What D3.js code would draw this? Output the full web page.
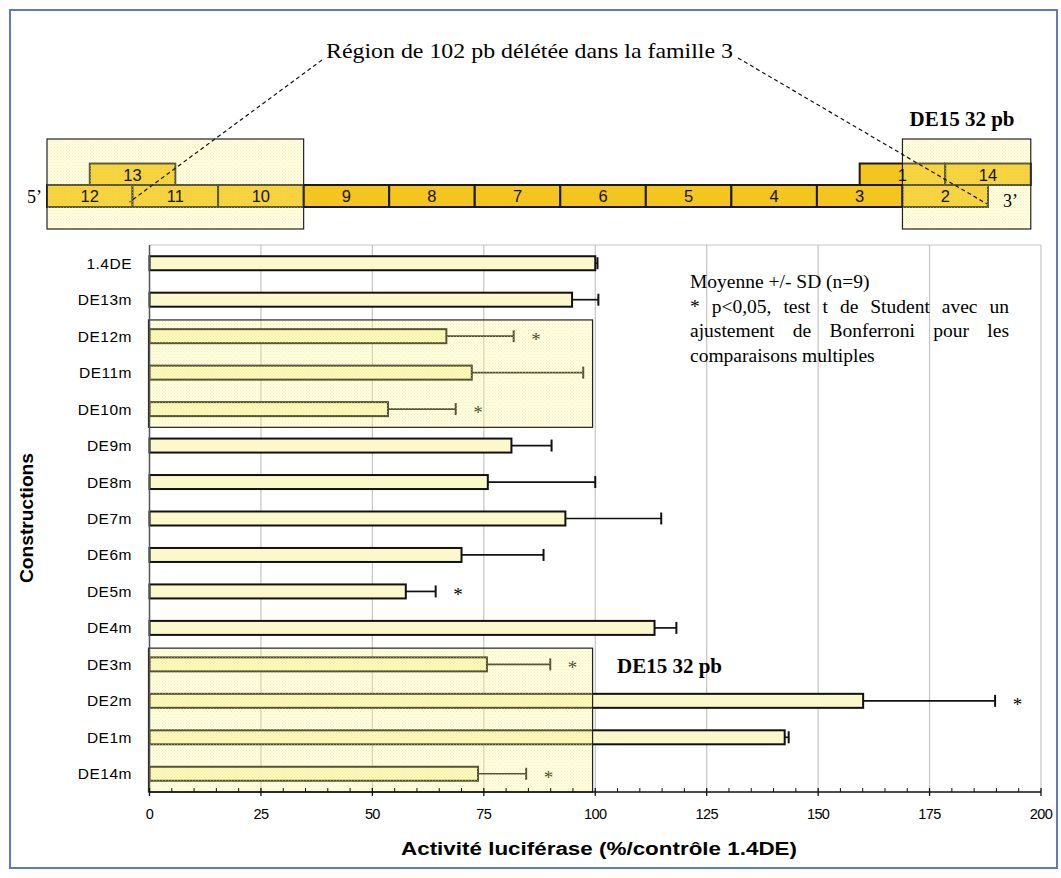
<!DOCTYPE html>
<html>
<head>
<meta charset="utf-8">
<script src="https://cdn.jsdelivr.net/npm/d3@7"></script>
<style>
  html, body { margin: 0; padding: 0; background: #fff; }
  svg { display: block; }
</style>
</head>
<body>
<svg id="chart" width="1061" height="878"></svg>
<script>
// ---------------- DATA ----------------
const categories = ["1.4DE","DE13m","DE12m","DE11m","DE10m","DE9m","DE8m","DE7m","DE6m","DE5m","DE4m","DE3m","DE2m","DE1m","DE14m"];
const means      = [100, 94.8, 66.6, 72.3, 53.5, 81.2, 75.9, 93.3, 70.0, 57.5, 113.3, 75.7, 160.1, 142.5, 73.7];
const sds        = [0.5, 5.9, 15.1, 25.0, 15.2, 9.0, 24.1, 21.5, 18.4, 6.7, 4.9, 14.2, 29.6, 0.9, 10.8];
const significant= [false,false,true,false,true,false,false,false,false,true,false,true,true,false,true];
const xTicks     = [0, 25, 50, 75, 100, 125, 150, 175, 200];
const highlightGroups = [["DE12m","DE10m"], ["DE3m","DE14m"]];
const highlightMax = 99.4;

// gene map segments
const lowerSegments = ["12","11","10","9","8","7","6","5","4","3","2"];
const upperSegments = [{label:"13", pos:0.5}, {label:"1", pos:9.5}, {label:"14", pos:10.5}];
const mapBoxes = [[0,3],[10,11.5]];

const titleText = "Région de 102 pb délétée dans la famille 3";
const de15Text = "DE15 32 pb";
const legendLines = [
  {text:"Moyenne +/- SD (n=9)", justify:false},
  {text:"* p<0,05, test t de Student avec un", justify:true},
  {text:"ajustement de Bonferroni pour les", justify:true},
  {text:"comparaisons multiples", justify:false}
];
const xTitle = "Activité luciférase (%/contrôle 1.4DE)";
const yTitle = "Constructions";

// ---------------- DRAW ----------------
const svg = d3.select("#chart");
const serif = "'Liberation Serif','Times New Roman',serif";
const sans = "'Liberation Sans',Arial,sans-serif";
const gold = "#f5c51f";
const barFill = "#fbf8cb";

// pattern for shaded regions
const defs = svg.append("defs");
const pat = defs.append("pattern").attr("id","dots").attr("width",3).attr("height",3)
  .attr("patternUnits","userSpaceOnUse");
pat.append("rect").attr("width",3).attr("height",3).attr("fill","rgba(252,246,160,0.25)");
pat.append("rect").attr("x",0).attr("y",0).attr("width",1).attr("height",1).attr("fill","rgba(240,228,70,0.45)");
pat.append("rect").attr("x",1.5).attr("y",1.5).attr("width",1).attr("height",1).attr("fill","rgba(240,228,70,0.35)");

// outer frame
svg.append("rect").attr("x",10).attr("y",10).attr("width",1047).attr("height",858)
  .attr("fill","none").attr("stroke","#5a7cc0").attr("stroke-width",2);

// ---------- Gene map ----------
const xs = d3.scaleLinear().domain([0,11]).range([47,988]);
const segY0 = 185, segH = 22, upY0 = 163.5;

const mapG = svg.append("g");
mapG.selectAll("rect.low").data(lowerSegments).join("rect")
  .attr("x",(d,i)=>xs(i)).attr("y",segY0).attr("width",(d,i)=>xs(i+1)-xs(i)).attr("height",segH)
  .attr("fill",gold).attr("stroke","#1a1a1a").attr("stroke-width",2);
mapG.selectAll("rect.up").data(upperSegments).join("rect")
  .attr("x",d=>xs(d.pos)).attr("y",upY0).attr("width",d=>xs(d.pos+1)-xs(d.pos)).attr("height",segY0-upY0)
  .attr("fill",gold).attr("stroke","#1a1a1a").attr("stroke-width",2);
mapG.selectAll("rect.box").data(mapBoxes).join("rect")
  .attr("x",d=>xs(d[0])).attr("y",139).attr("width",d=>xs(d[1])-xs(d[0])).attr("height",90)
  .attr("fill","url(#dots)").attr("stroke","#222").attr("stroke-width",1.2);
mapG.selectAll("text.low").data(lowerSegments).join("text")
  .attr("x",(d,i)=>(xs(i)+xs(i+1))/2).attr("y",segY0+17)
  .attr("text-anchor","middle").attr("font-family",sans).attr("font-size",16.5).attr("fill","#111").text(d=>d);
mapG.selectAll("text.up").data(upperSegments).join("text")
  .attr("x",d=>(xs(d.pos)+xs(d.pos+1))/2).attr("y",upY0+17)
  .attr("text-anchor","middle").attr("font-family",sans).attr("font-size",16.5).attr("fill","#111").text(d=>d.label);

svg.append("text").attr("x",27).attr("y",203).attr("font-family",serif).attr("font-size",18).text("5’");
svg.append("text").attr("x",1003).attr("y",207).attr("font-family",serif).attr("font-size",18).text("3’");

const title = svg.append("text").attr("x",529.5).attr("y",58).attr("text-anchor","middle")
  .attr("font-family",serif).attr("font-size",22).attr("textLength",407).attr("lengthAdjust","spacingAndGlyphs")
  .text(titleText);

svg.append("text").attr("x",962).attr("y",126).attr("text-anchor","middle")
  .attr("font-family",serif).attr("font-weight","bold").attr("font-size",21).text(de15Text);

// dashed leader lines
const tb = title.node().getBBox();
svg.append("line").attr("x1",tb.x-4).attr("y1",60).attr("x2",xs(1)-3).attr("y2",segY0+17)
  .attr("stroke","#111").attr("stroke-width",1.2).attr("stroke-dasharray","4,3");
svg.append("line").attr("x1",tb.x+tb.width+5).attr("y1",58).attr("x2",xs(11)-1).attr("y2",segY0+19)
  .attr("stroke","#111").attr("stroke-width",1.2).attr("stroke-dasharray","4,3");

// ---------- Bar chart ----------
const x = d3.scaleLinear().domain([0,200]).range([149.5,1041]);
const y = d3.scaleBand().domain(categories).range([245,792]).paddingInner(0.616).paddingOuter(0.308);
const step = y.step(), bw = y.bandwidth();
const bandTop = c => y(c) - (step-bw)/2;

const plot = svg.append("g");
// gridlines
plot.selectAll("line.grid").data(xTicks.filter(t=>t>0)).join("line")
  .attr("x1",d=>x(d)).attr("x2",d=>x(d)).attr("y1",245).attr("y2",792)
  .attr("stroke","#c4c4c4").attr("stroke-width",1.2);
plot.append("line").attr("x1",x(0)).attr("x2",x(200)).attr("y1",245).attr("y2",245)
  .attr("stroke","#c4c4c4").attr("stroke-width",1.2);

const data = categories.map((c,i)=>({c, m:means[i], sd:sds[i], sig:significant[i]}));

// bars
plot.selectAll("rect.bar").data(data).join("rect")
  .attr("x",x(0)).attr("y",d=>y(d.c)).attr("width",d=>x(d.m)-x(0)).attr("height",bw)
  .attr("fill",barFill).attr("stroke","#111").attr("stroke-width",2);

// error bars
plot.selectAll("line.err").data(data).join("line")
  .attr("x1",d=>x(d.m)).attr("x2",d=>x(d.m+d.sd)).attr("y1",d=>y(d.c)+bw/2).attr("y2",d=>y(d.c)+bw/2)
  .attr("stroke","#111").attr("stroke-width",1.7);
plot.selectAll("line.cap").data(data).join("line")
  .attr("x1",d=>x(d.m+d.sd)).attr("x2",d=>x(d.m+d.sd)).attr("y1",d=>y(d.c)+bw/2-6).attr("y2",d=>y(d.c)+bw/2+6)
  .attr("stroke","#111").attr("stroke-width",2);

// asterisks
plot.selectAll("text.sig").data(data.filter(d=>d.sig)).join("text")
  .attr("x",d=>x(d.m+d.sd+5)).attr("y",d=>y(d.c)+bw/2+10)
  .attr("text-anchor","middle").attr("font-family",serif).attr("font-size",19).text("*");

// highlight boxes
plot.selectAll("rect.hl").data(highlightGroups).join("rect")
  .attr("x",x(0)-1).attr("y",d=>bandTop(d[0])+2)
  .attr("width",x(highlightMax)-x(0)+1)
  .attr("height",d=>Math.min(bandTop(d[1])+step,792)-bandTop(d[0])-2)
  .attr("fill","url(#dots)").attr("stroke","#222").attr("stroke-width",1.2);

// y axis line
plot.append("line").attr("x1",x(0)).attr("x2",x(0)).attr("y1",245).attr("y2",792)
  .attr("stroke","#555").attr("stroke-width",1.5);

// category labels
plot.selectAll("text.cat").data(categories).join("text")
  .attr("x",132).attr("y",d=>y(d)+bw/2+5.5)
  .attr("text-anchor","end").attr("font-family",sans).attr("font-size",15.5)
  .attr("letter-spacing",0.5).text(d=>d);

// x axis
const minorTicks = d3.range(0,201,5).filter(v=>v%25!==0);
const axG = svg.append("g");
axG.append("line").attr("x1",x(0)).attr("x2",x(200)).attr("y1",792).attr("y2",792)
  .attr("stroke","#111").attr("stroke-width",1.5);
axG.selectAll("line.minor").data(minorTicks).join("line")
  .attr("x1",d=>x(d)).attr("x2",d=>x(d)).attr("y1",788).attr("y2",792)
  .attr("stroke","#111").attr("stroke-width",1);
axG.selectAll("line.major").data(xTicks).join("line")
  .attr("x1",d=>x(d)).attr("x2",d=>x(d)).attr("y1",788).attr("y2",796)
  .attr("stroke","#111").attr("stroke-width",1.3);
axG.selectAll("text.tick").data(xTicks).join("text")
  .attr("x",d=>x(d)).attr("y",819).attr("text-anchor","middle")
  .attr("font-family",sans).attr("font-size",14.5).attr("letter-spacing",-0.6).text(d=>d);

svg.append("text").attr("x",599).attr("y",855).attr("text-anchor","middle")
  .attr("font-family",sans).attr("font-weight","bold").attr("font-size",18)
  .attr("textLength",396).attr("lengthAdjust","spacingAndGlyphs").text(xTitle);

svg.append("text").attr("transform","translate(33,518) rotate(-90)").attr("text-anchor","middle")
  .attr("font-family",sans).attr("font-weight","bold").attr("font-size",17.5)
  .attr("textLength",130).attr("lengthAdjust","spacingAndGlyphs").text(yTitle);

// DE15 label in chart
svg.append("text").attr("x",617).attr("y",673)
  .attr("font-family",serif).attr("font-weight","bold").attr("font-size",21).text(de15Text);

// legend (justified)
const legX0 = 690, legX1 = 1009, legY0 = 288, legDy = 24.5, legFS = 19.5;
legendLines.forEach((ln,i)=>{
  const yy = legY0 + i*legDy;
  if (!ln.justify) {
    svg.append("text").attr("x",legX0).attr("y",yy).attr("font-family",serif).attr("font-size",legFS).text(ln.text);
  } else {
    const words = ln.text.split(" ");
    const g = svg.append("g");
    const nodes = words.map(w => g.append("text").attr("y",yy).attr("font-family",serif).attr("font-size",legFS).text(w));
    const widths = nodes.map(n=>n.node().getComputedTextLength());
    const total = d3.sum(widths);
    const gap = (legX1-legX0-total)/(words.length-1);
    let cx = legX0;
    nodes.forEach((n,k)=>{ n.attr("x",cx); cx += widths[k]+gap; });
  }
});
</script>
</body>
</html>
